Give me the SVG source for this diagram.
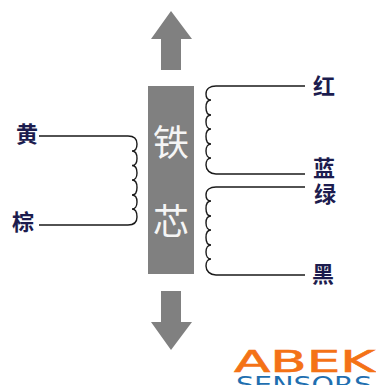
<svg xmlns="http://www.w3.org/2000/svg" width="376" height="385" viewBox="0 0 376 385">
<style>
.coil{fill:none;stroke:#1a1a1a;stroke-width:1.4}
.lb{font-family:"Noto Sans CJK SC","Noto Sans",sans-serif;font-size:22px;font-weight:700;fill:#1c1c4e;text-anchor:middle}
.core{font-family:"Noto Sans CJK SC","Noto Sans",sans-serif;font-size:36px;font-weight:400;fill:#f5f5f5;text-anchor:middle}
.ar{fill:#808080}
</style>
<rect width="376" height="385" fill="#fff"/>
<g id="arrow-up"><polygon class="ar" points="171,11 192,39 181,39 181,70 161,70 161,39 151,39"/></g>
<g id="arrow-down"><polygon class="ar" points="171,350 192,322 181,322 181,291 161,291 161,322 151,322"/></g>
<g id="core"><rect x="148" y="86" width="46" height="188" fill="#808080"/>
<text class="core" x="171" y="156">铁</text><text class="core" x="171" y="235">芯</text></g>
<g id="connectors">
<path class="coil" d="M39 136H128C134 136 137 139 137 144C137 149 135 151 132 151C135 151 137 154 137 158.500C137 163 135 165.500 132 165.500C135 165.500 137 168 137 173C137 177 135 180 132 180C135 180 137 183 137 187.500C137 192 135 195 132 195C135 195 137 197 137 202C137 206 135 209 132 209C135 209 137 212 137 217C137 222 134 225 128 225H39"/>
<path class="coil" d="M305 86H216C210 86 206 89 206 94C206 98 208 100 211 100C208 100 206 103 206 107.500C206 112 208 115 211 115C208 115 206 117 206 122C206 126 208 129 211 129C208 129 206 132 206 136.500C206 141 208 144 211 144C208 144 206 147 206 151C206 155 208 158 211 158C208 158 206 161 206 165C206 170 210 174 216 174H305"/>
<path class="coil" d="M305 187H216C210 187 206 190 206 195C206 199 208 201 211 201C208 201 206 204 206 208.500C206 213 208 216 211 216C208 216 206 218 206 223C206 227 208 230 211 230C208 230 206 233 206 237.500C206 242 208 245 211 245C208 245 206 248 206 252C206 256 208 259 211 259C208 259 206 262 206 266C206 271 210 275 216 275H305"/>
</g>
<g id="label-huang"><text class="lb" x="27" y="142">黄</text></g>
<g id="label-zong"><text class="lb" x="23" y="230">棕</text></g>
<g id="label-hong"><text class="lb" x="324" y="94">红</text></g>
<g id="label-lan"><text class="lb" x="324" y="176">蓝</text></g>
<g id="label-lv"><text class="lb" x="325" y="202">绿</text></g>
<g id="label-hei"><text class="lb" x="323" y="282">黑</text></g>
<g id="logo">
<text x="234" y="372" font-family="'DejaVu Sans',sans-serif" font-size="30" font-weight="400" fill="#f47216" stroke="#f47216" stroke-width="0.6" textLength="141" lengthAdjust="spacingAndGlyphs">ABEK</text>
<text x="236" y="392" font-family="'DejaVu Sans',sans-serif" font-size="22" font-weight="400" fill="#1f6fb0" textLength="136" lengthAdjust="spacingAndGlyphs">SENSORS</text>
</g>
</svg>
